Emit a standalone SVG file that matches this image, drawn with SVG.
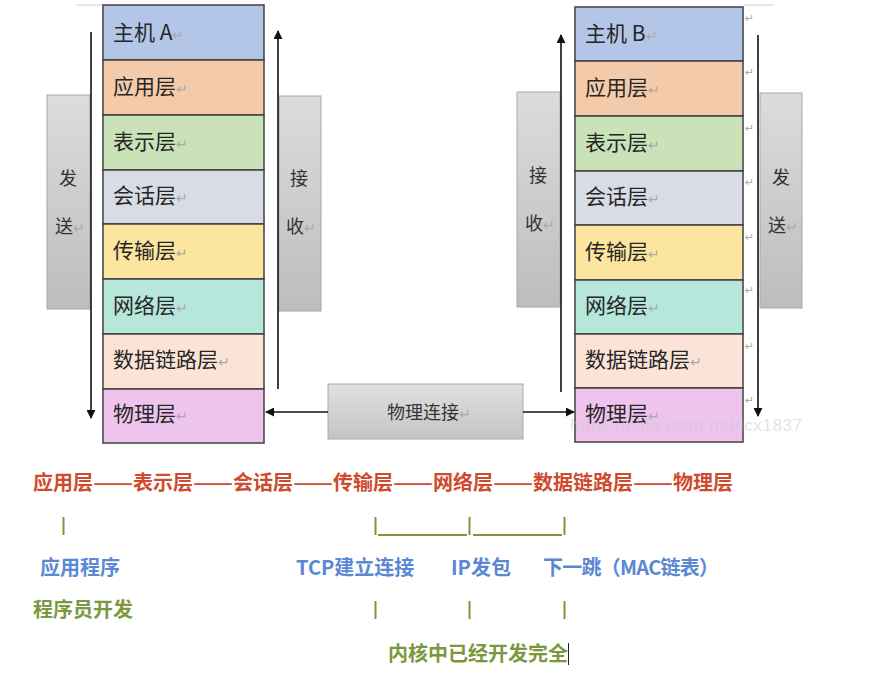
<svg xmlns="http://www.w3.org/2000/svg" width="883" height="682" viewBox="0 0 883 682">
<defs>
<linearGradient id="g" x1="0" y1="0" x2="0" y2="1">
<stop offset="0" stop-color="#dcdcdc"/>
<stop offset="1" stop-color="#bdbdbd"/>
</linearGradient>
<linearGradient id="gh" x1="0" y1="0" x2="0" y2="1">
<stop offset="0" stop-color="#e0e0e0"/>
<stop offset="1" stop-color="#c4c4c4"/>
</linearGradient>
<marker id="ah" viewBox="0 0 10 10" refX="9" refY="5" markerWidth="9" markerHeight="9" markerUnits="userSpaceOnUse" orient="auto">
<path d="M0,0 L10,5 L0,10 z" fill="#111"/>
</marker>
</defs>
<style>
.row{stroke:#404040;stroke-width:1.5}
.lbl{font-family:"Noto Sans CJK SC","Noto Sans",sans-serif;font-size:21px;fill:#262626}
.rt{fill:#aaaaaa;font-size:14px}
.gb{fill:url(#g);stroke:#a8a8a8;stroke-width:1}
.gt{font-family:"Noto Sans CJK SC",sans-serif;font-size:18px;fill:#333;text-anchor:middle}
.ln{stroke:#111;stroke-width:1.6;fill:none}
.pm{font-family:"DejaVu Sans",sans-serif;font-size:11px;fill:#aaaaaa}
.b{font-family:"Noto Sans CJK SC",sans-serif;font-weight:bold;font-size:20px}
.red{fill:#cf4b2d}
.blue{fill:#5b88d2}
.olive{fill:#7b983f}
.bar{stroke:#7b983f;stroke-width:2}
</style>
<rect width="883" height="682" fill="#ffffff"/>

<line x1="76" y1="5" x2="103" y2="5" stroke="#cfcfcf" stroke-width="1"/>
<line x1="744" y1="5" x2="773" y2="5" stroke="#cfcfcf" stroke-width="1"/>

<g id="send-a">
<rect class="gb" x="47" y="95" width="43" height="214"/>
<text class="gt" x="68" y="185">发</text>
<text class="gt" x="70" y="233">送<tspan class="rt">↵</tspan></text>
</g>
<g id="recv-a">
<rect class="gb" x="279" y="96" width="42" height="215"/>
<text class="gt" x="299" y="185">接</text>
<text class="gt" x="301" y="233">收<tspan class="rt">↵</tspan></text>
</g>
<g id="recv-b">
<rect class="gb" x="517" y="92" width="43" height="215"/>
<text class="gt" x="538" y="182">接</text>
<text class="gt" x="540" y="230">收<tspan class="rt">↵</tspan></text>
</g>
<g id="send-b">
<rect class="gb" x="760" y="93" width="42" height="215"/>
<text class="gt" x="781" y="184">发</text>
<text class="gt" x="783" y="232">送<tspan class="rt">↵</tspan></text>
</g>

<g id="stack-a">
<rect class="row" x="103" y="5" width="161" height="55" fill="#b4c6e7"/>
<rect class="row" x="103" y="60" width="161" height="55" fill="#f4cbaa"/>
<rect class="row" x="103" y="115" width="161" height="55" fill="#c9e2b8"/>
<rect class="row" x="103" y="170" width="161" height="54" fill="#d7dce5"/>
<rect class="row" x="103" y="224" width="161" height="55" fill="#fbe59f"/>
<rect class="row" x="103" y="279" width="161" height="55" fill="#b7e6da"/>
<rect class="row" x="103" y="334" width="161" height="55" fill="#fbe4d7"/>
<rect class="row" x="103" y="389" width="161" height="54" fill="#eec4ee"/>
<text class="lbl" x="113" y="40">主机 A<tspan class="rt">↵</tspan></text>
<text class="lbl" x="113" y="94">应用层<tspan class="rt">↵</tspan></text>
<text class="lbl" x="113" y="149">表示层<tspan class="rt">↵</tspan></text>
<text class="lbl" x="113" y="203">会话层<tspan class="rt">↵</tspan></text>
<text class="lbl" x="113" y="258">传输层<tspan class="rt">↵</tspan></text>
<text class="lbl" x="113" y="313">网络层<tspan class="rt">↵</tspan></text>
<text class="lbl" x="113" y="367">数据链路层<tspan class="rt">↵</tspan></text>
<text class="lbl" x="113" y="421">物理层<tspan class="rt">↵</tspan></text>
</g>

<g id="stack-b">
<rect class="row" x="575" y="7" width="168" height="54" fill="#b4c6e7"/>
<rect class="row" x="575" y="61" width="168" height="55" fill="#f4cbaa"/>
<rect class="row" x="575" y="116" width="168" height="55" fill="#c9e2b8"/>
<rect class="row" x="575" y="171" width="168" height="54" fill="#d7dce5"/>
<rect class="row" x="575" y="225" width="168" height="55" fill="#fbe59f"/>
<rect class="row" x="575" y="280" width="168" height="54" fill="#b7e6da"/>
<rect class="row" x="575" y="334" width="168" height="54" fill="#fbe4d7"/>
<rect class="row" x="575" y="388" width="168" height="54" fill="#eec4ee"/>
<text class="lbl" x="585" y="41">主机 B<tspan class="rt">↵</tspan></text>
<text class="lbl" x="585" y="95">应用层<tspan class="rt">↵</tspan></text>
<text class="lbl" x="585" y="150">表示层<tspan class="rt">↵</tspan></text>
<text class="lbl" x="585" y="204">会话层<tspan class="rt">↵</tspan></text>
<text class="lbl" x="585" y="259">传输层<tspan class="rt">↵</tspan></text>
<text class="lbl" x="585" y="313">网络层<tspan class="rt">↵</tspan></text>
<text class="lbl" x="585" y="367">数据链路层<tspan class="rt">↵</tspan></text>
<text class="lbl" x="585" y="421">物理层<tspan class="rt">↵</tspan></text>
<text class="pm" x="745" y="22">↵</text>
<text class="pm" x="745" y="76">↵</text>
<text class="pm" x="745" y="132">↵</text>
<text class="pm" x="745" y="186">↵</text>
<text class="pm" x="745" y="241">↵</text>
<text class="pm" x="745" y="294">↵</text>
<text class="pm" x="745" y="350">↵</text>
<text class="pm" x="745" y="404">↵</text>
</g>

<g id="phys-link">
<rect x="328" y="384" width="195" height="55" fill="url(#gh)" stroke="#a8a8a8" stroke-width="1"/>
<text class="gt" x="429" y="419">物理连接<tspan class="rt">↵</tspan></text>
</g>

<g id="connectors">
<line class="ln" x1="91" y1="32" x2="91" y2="418" marker-end="url(#ah)"/>
<line class="ln" x1="278" y1="389" x2="278" y2="31" marker-end="url(#ah)"/>
<line class="ln" x1="561" y1="392" x2="561" y2="35" marker-end="url(#ah)"/>
<line class="ln" x1="758" y1="35" x2="758" y2="416" marker-end="url(#ah)"/>
<line class="ln" x1="328" y1="412" x2="266" y2="412" marker-end="url(#ah)"/>
<line class="ln" x1="523" y1="412" x2="574" y2="412" marker-end="url(#ah)"/>
</g>

<text x="570" y="431" font-family="Liberation Sans,sans-serif" font-size="17" fill="#c8c8c8" fill-opacity="0.5" textLength="232">https://blog.csdn.net/lcx1837</text>

<g id="notes">
<text class="b red" y="490"><tspan x="33">应用层</tspan><tspan x="93" textLength="40" lengthAdjust="spacingAndGlyphs">——</tspan><tspan x="133">表示层</tspan><tspan x="193" textLength="40" lengthAdjust="spacingAndGlyphs">——</tspan><tspan x="233">会话层</tspan><tspan x="293" textLength="40" lengthAdjust="spacingAndGlyphs">——</tspan><tspan x="333">传输层</tspan><tspan x="393" textLength="40" lengthAdjust="spacingAndGlyphs">——</tspan><tspan x="433">网络层</tspan><tspan x="493" textLength="40" lengthAdjust="spacingAndGlyphs">——</tspan><tspan x="533">数据链路层</tspan><tspan x="633" textLength="40" lengthAdjust="spacingAndGlyphs">——</tspan><tspan x="673">物理层</tspan></text>
<line class="bar" x1="63.5" y1="517" x2="63.5" y2="535"/>
<line class="bar" x1="375.5" y1="517" x2="375.5" y2="535"/>
<line class="bar" x1="469.5" y1="517" x2="469.5" y2="535"/>
<line class="bar" x1="564.5" y1="517" x2="564.5" y2="535"/>
<line class="bar" x1="378" y1="535" x2="467" y2="535"/>
<line class="bar" x1="473" y1="535" x2="562" y2="535"/>
<text class="b blue" x="40" y="575">应用程序</text>
<text class="b blue" x="296" y="575">TCP建立连接</text>
<text class="b blue" x="451" y="575">IP发包</text>
<text class="b blue" x="543" y="575" textLength="176">下一跳（MAC链表）</text>
<text class="b olive" x="33" y="617">程序员开发</text>
<line class="bar" x1="375.5" y1="601" x2="375.5" y2="619"/>
<line class="bar" x1="469.5" y1="601" x2="469.5" y2="619"/>
<line class="bar" x1="564.5" y1="601" x2="564.5" y2="619"/>
<text class="b olive" x="388" y="661">内核中已经开发完全</text>
<line x1="568.5" y1="643" x2="568.5" y2="665" stroke="#222" stroke-width="1"/>
</g>
</svg>
